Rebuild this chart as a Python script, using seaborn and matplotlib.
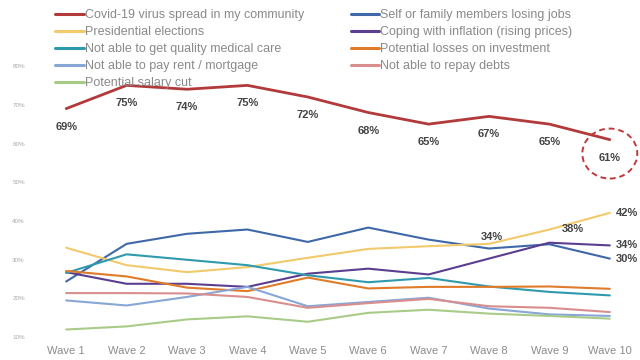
import numpy as np
import pandas as pd
import matplotlib
matplotlib.use("Agg")
import matplotlib.pyplot as plt
from matplotlib.patches import Ellipse
import seaborn as sns

# data
waves = ["Wave 1", "Wave 2", "Wave 3", "Wave 4", "Wave 5",
         "Wave 6", "Wave 7", "Wave 8", "Wave 9", "Wave 10"]
covid = [69, 75, 74, 75, 72, 68, 65, 67, 65, 61]
jobs = [24.4, 34.1, 36.7, 37.8, 34.6, 38.3, 35.2, 32.9, 34.0, 30.3]
elections = [33.1, 28.6, 26.8, 28.1, 30.5, 32.8, 33.5, 34.1, 37.8, 42.1]
inflation = [26.8, 23.8, 23.8, 23.0, 26.4, 27.7, 26.2, 30.3, 34.4, 33.7]
medical = [26.6, 31.4, 30.0, 28.6, 26.0, 24.2, 25.3, 23.1, 21.7, 20.8]
investment = [27.1, 25.7, 22.8, 21.9, 25.4, 22.6, 23.0, 23.0, 23.1, 22.5]
rent = [19.5, 18.2, 20.4, 23.0, 18.0, 19.1, 20.2, 17.4, 15.9, 15.5]
debts = [21.4, 21.4, 21.3, 20.4, 17.6, 18.8, 19.9, 18.0, 17.6, 16.5]
salary = [12.0, 12.8, 14.6, 15.4, 14.0, 16.3, 17.1, 16.1, 15.5, 14.8]

names = ["Covid-19 virus spread in my community",
         "Self or family members losing jobs",
         "Presidential elections",
         "Coping with inflation (rising prices)",
         "Not able to get quality medical care",
         "Potential losses on investment",
         "Not able to pay rent / mortgage",
         "Not able to repay debts",
         "Potential salary cut"]
series = [covid, jobs, elections, inflation, medical, investment, rent, debts, salary]
colors = ["#b23a3a", "#3f68a8", "#f2c96b", "#5b3e8f", "#2f9aad",
          "#e07b2a", "#88a6d6", "#d98e8e", "#a8cc88"]

df = pd.DataFrame([
    {"wave": i, "value": v, "series": n}
    for n, vals in zip(names, series) for i, v in enumerate(vals)
])

sns.set_style("white")
plt.rcParams["font.family"] = ["Liberation Sans", "DejaVu Sans"]

fig = plt.figure(figsize=(6.4, 3.6), dpi=100)
ax = fig.add_axes([36 / 640, 1 - 345 / 360, 604 / 640, 310 / 360])

sns.lineplot(data=df, x="wave", y="value", hue="series", hue_order=names,
             palette=colors, linewidth=1.5, ax=ax)
# covid line a bit thicker
ax.lines[0].set_linewidth(2.0)

ax.set_xlim(-0.5, 9.5)
ax.set_ylim(8, 88)
ax.set_xticks(range(len(waves)))
ax.set_xticklabels(waves, fontsize=8, color="#8c8c8c")
ax.set_yticks(range(10, 90, 10))
ax.set_yticklabels([f"{t}%" for t in range(10, 90, 10)], fontsize=4.5, color="#a8a8a8")
ax.tick_params(axis="x", length=0, pad=1)
ax.tick_params(axis="y", length=0, pad=8)
ax.set_xlabel("")
ax.set_ylabel("")
sns.despine(ax=ax, left=True, bottom=True)

# legend in two columns
handles, labels = ax.get_legend_handles_labels()
order = [0, 2, 4, 6, 8, 1, 3, 5, 7]
leg = ax.legend([handles[i] for i in order], [labels[i] for i in order],
                ncol=2, loc="upper left", bbox_to_anchor=(55 / 640, 1 - 9 / 360),
                bbox_transform=fig.transFigure, frameon=False, fontsize=9,
                labelcolor="#8a8a8a", handlelength=2.3, handletextpad=0.1,
                columnspacing=3.7, labelspacing=0.4, borderpad=0, borderaxespad=0)
for h in leg.legend_handles:
    h.set_linewidth(2.2)

# value labels on covid line
lab = dict(fontsize=8, fontweight="bold", color="#444444",
           ha="center", va="center", textcoords="offset pixels")
for i, v in enumerate(covid):
    ax.annotate(f"{v}%", xy=(i, v), xytext=(0, -18), **lab)

ax.annotate(f"{elections[7]:.0f}%", xy=(7, elections[7]), xytext=(3, 7), **lab)
ax.annotate(f"{elections[8]:.0f}%", xy=(8, elections[8]), xytext=(23, 1), **lab)
lab["ha"] = "left"
for vals in (elections, inflation, jobs):
    ax.annotate(f"{vals[9]:.0f}%", xy=(9, vals[9]), xytext=(6, 0), **lab)

ax.add_patch(Ellipse((9, 57.4), 0.91, 12.9, fill=False, edgecolor="#c0393b",
                     linestyle=(0, (3, 2)), linewidth=1.4, clip_on=False))

fig.savefig("out.png", dpi=100)
